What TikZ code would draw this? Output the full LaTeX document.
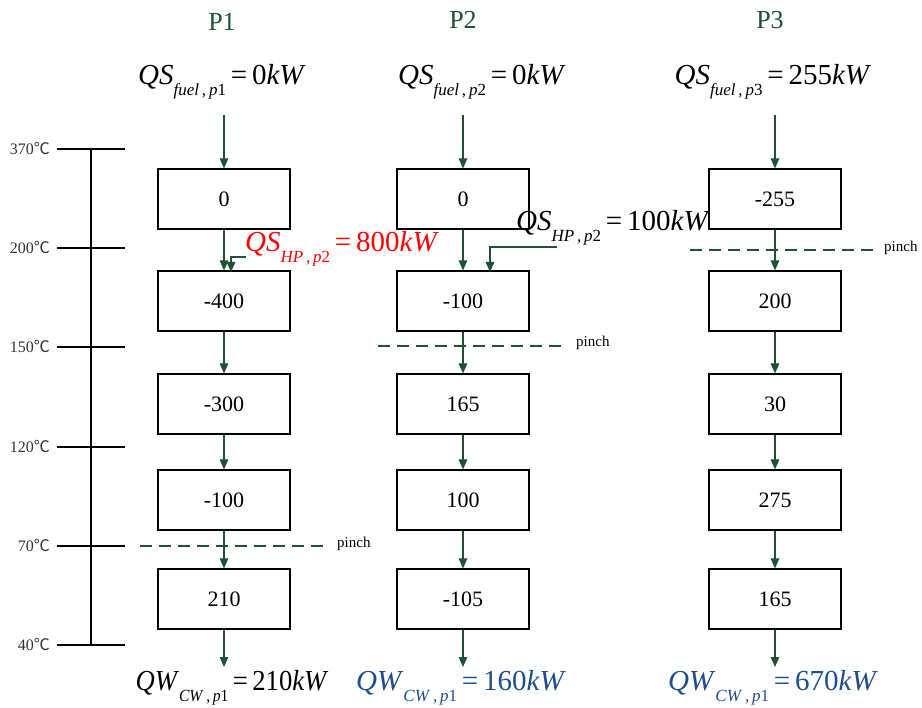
\documentclass[tikz,border=0pt]{standalone}
\usepackage{fontspec}
\setmainfont{Liberation Serif}
\newfontfamily\cjk{Noto Sans CJK SC}
\usetikzlibrary{arrows.meta}
\definecolor{dg}{HTML}{1E5232}
\definecolor{bl}{HTML}{1F4E8C}
\definecolor{rd}{HTML}{FF0000}
\newcommand{\qlab}[3]{\textit{#1}\raisebox{-0.38em}{\fontsize{17}{17}\selectfont #2}\,=\,#3\textit{kW}}
\newcommand{\degc}{{\cjk ℃}}
\begin{document}
\begin{tikzpicture}[x=1pt,y=-1pt,
  box/.style={draw=black,line width=1.1pt,minimum width=132pt,minimum height=60pt,inner sep=0pt,font=\fontsize{22}{22}\selectfont},
  flow/.style={draw=dg,line width=1.3pt,-{Triangle[length=10pt,width=8.5pt]}},
  pinchline/.style={draw=dg,line width=1.3pt,dash pattern=on 12pt off 7pt},
  plab/.style={text=dg,font=\fontsize{26}{26}\selectfont},
  qlab/.style={inner sep=0pt,font=\fontsize{29}{29}\selectfont},
  tlab/.style={anchor=east,inner sep=0pt,text=black!80,font=\fontsize{16}{16}\selectfont},
  pinchtxt/.style={anchor=west,inner sep=0pt,font=\fontsize{15}{15}\selectfont},
  scaleline/.style={draw=black,line width=1.6pt}]
\useasboundingbox (0,0) rectangle (922,708);

% column titles
\node[plab] (p1) at (222,22) {P1};
\node[plab] (p2) at (463,20) {P2};
\node[plab] (p3) at (770,20) {P3};

% fuel labels
\node[qlab] (f1) at (222,82) {\qlab{QS}{\textit{fuel}\,,\,\textit{p}1}{0}};
\node[qlab] (f2) at (482,82) {\qlab{QS}{\textit{fuel}\,,\,\textit{p}2}{0}};
\node[qlab] (f3) at (773,82) {\qlab{QS}{\textit{fuel}\,,\,\textit{p}3}{255}};

% temperature scale
\coordinate (s0) at (91,149);
\coordinate (s5) at (91,645);
\draw[scaleline] (s0) -- (s5);
\foreach \yy/\tt in {149/370,248/200,347/150,447/120,546/70,645/40}{
  \coordinate (tl\tt) at (57,\yy);
  \coordinate (tr\tt) at (125,\yy);
  \draw[scaleline] (tl\tt) -- (tr\tt);
  \node[tlab] (tt\tt) at (50,\yy) {\tt\degc};
}

% boxes
\foreach \c/\xx in {1/224,2/463,3/775}{
  \coordinate (top\c) at (\xx,115);
  \coordinate (bot\c) at (\xx,667);
}
\node[box] (a1) at (224,199) {0};
\node[box] (b1) at (224,301) {-400};
\node[box] (c1) at (224,404) {-300};
\node[box] (d1) at (224,500) {-100};
\node[box] (e1) at (224,599) {210};

\node[box] (a2) at (463,199) {0};
\node[box] (b2) at (463,301) {-100};
\node[box] (c2) at (463,404) {165};
\node[box] (d2) at (463,500) {100};
\node[box] (e2) at (463,599) {-105};

\node[box] (a3) at (775,199) {-255};
\node[box] (b3) at (775,301) {200};
\node[box] (c3) at (775,404) {30};
\node[box] (d3) at (775,500) {275};
\node[box] (e3) at (775,599) {165};

% pinch lines
\coordinate (pa1) at (140,546); \coordinate (pb1) at (323,546);
\coordinate (pa2) at (378,346); \coordinate (pb2) at (562,346);
\coordinate (pa3) at (690,250); \coordinate (pb3) at (873,250);
\draw[pinchline] (pa1) -- (pb1);
\draw[pinchline] (pa2) -- (pb2);
\draw[pinchline] (pa3) -- (pb3);
\node[pinchtxt] (n1) at (337,544) {pinch};
\node[pinchtxt] (n2) at (576,343) {pinch};
\node[pinchtxt] (n3) at (884,248) {pinch};

% flow arrows
\foreach \c in {1,2,3}{
  \draw[flow] (top\c) -- (a\c);
  \draw[flow] (a\c) -- (b\c);
  \draw[flow] (b\c) -- (c\c);
  \draw[flow] (c\c) -- (d\c);
  \draw[flow] (d\c) -- (e\c);
  \draw[flow] (e\c) -- (bot\c);
}

% heat pump inputs
\node[qlab,text=rd] (hp1) at (342,249) {\qlab{QS}{\textit{HP}\,,\,\textit{p}2}{800}};
\coordinate (h1a) at (246,257);
\coordinate (h1e) at (231,272);
\draw[flow] (h1a) -| (h1e);

\node[qlab] (hp2) at (613,228) {\qlab{QS}{\textit{HP}\,,\,\textit{p}2}{100}};
\coordinate (h2a) at (557,247);
\coordinate (h2e) at (490,272);
\draw[flow] (h2a) -| (h2e);

% cooling water outputs
\node[qlab] (w1) at (232,688) {\scalebox{0.92}[1]{\qlab{QW}{\textit{CW}\,,\,\textit{p}1}{210}}};
\node[qlab,text=bl] (w2) at (461,688) {\qlab{QW}{\textit{CW}\,,\,\textit{p}1}{160}};
\node[qlab,text=bl] (w3) at (773,688) {\qlab{QW}{\textit{CW}\,,\,\textit{p}1}{670}};
\end{tikzpicture}
\end{document}
